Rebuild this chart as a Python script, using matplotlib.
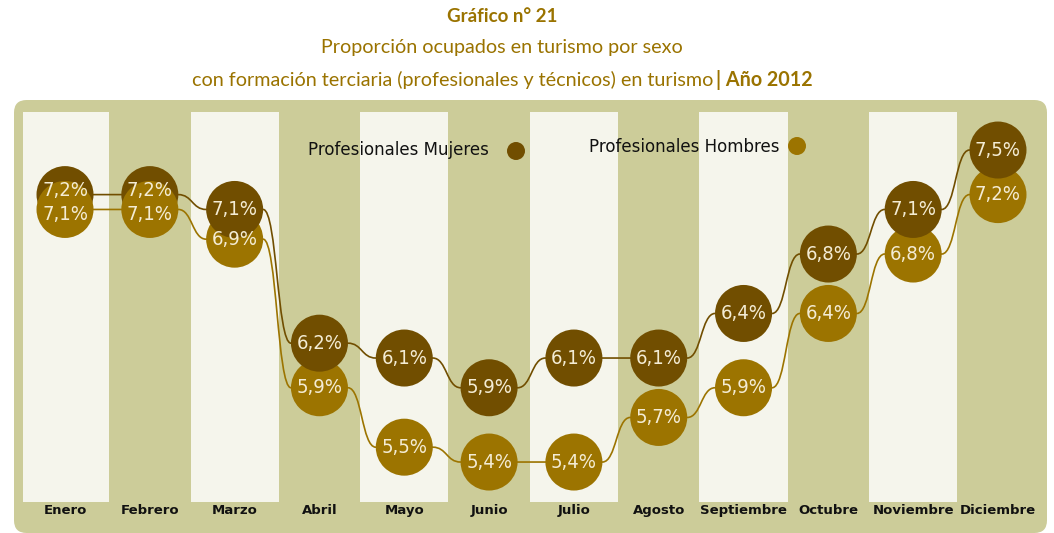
import matplotlib
matplotlib.use('Agg')
import matplotlib.pyplot as plt
from matplotlib.patches import FancyBboxPatch, PathPatch
from matplotlib.path import Path
from matplotlib.transforms import blended_transform_factory, offset_copy

meses = ['Enero', 'Febrero', 'Marzo', 'Abril', 'Mayo', 'Junio', 'Julio',
         'Agosto', 'Septiembre', 'Octubre', 'Noviembre', 'Diciembre']
mujeres = [7.2, 7.2, 7.1, 6.2, 6.1, 5.9, 6.1, 6.1, 6.4, 6.8, 7.1, 7.5]
hombres = [7.1, 7.1, 6.9, 5.9, 5.5, 5.4, 5.4, 5.7, 5.9, 6.4, 6.8, 7.2]
serie_mujeres = 'Profesionales Mujeres'
serie_hombres = 'Profesionales Hombres'
titulo1 = 'Gráfico n° 21'
titulo2 = 'Proporción ocupados en turismo por sexo'
titulo3a = 'con formación terciaria (profesionales y técnicos) en turismo'
titulo3b = '| Año 2012'

C_MUJ = '#714E00'
C_HOM = '#9C7400'
C_BG = '#CCCC99'
C_COL = '#F5F5EC'
C_TIT = '#9A7300'
C_TXT = '#F4ECD4'

W, H = 1054, 533
fig = plt.figure(figsize=(W / 100, H / 100), dpi=100)
fig.patch.set_facecolor('white')

# rounded olive background
bg = FancyBboxPatch((14 / W, 0 / H), (1047 - 14) / W, (533 - 100) / H,
                    boxstyle='round,pad=0,rounding_size=0.012',
                    transform=fig.transFigure, facecolor=C_BG, edgecolor='none',
                    mutation_aspect=W / H, zorder=-5)
fig.patches.append(bg)

left_px, right_px = 22.6, 1040.4
top_px, bot_px = 112, 502
ax = fig.add_axes([left_px / W, (H - bot_px) / H, (right_px - left_px) / W, (bot_px - top_px) / H])
ax.set_facecolor('none')
ax.axis('off')
ax.set_xlim(-0.5, 11.5)
ylo, yhi = 5.131, 7.756
ax.set_ylim(ylo, yhi)

x = list(range(len(meses)))
for i in x[::2]:
    ax.axvspan(i - 0.52, i + 0.52, color=C_COL, zorder=1, lw=0)

px_per_unit = (right_px - left_px) / 12.0
r = 28.5 / px_per_unit
py_per_unit = (bot_px - top_px) / (yhi - ylo)


def connectors(vals, color):
    for i in range(len(vals) - 1):
        x0, y0 = x[i] + r, vals[i]
        x1, y1 = x[i + 1] - r, vals[i + 1]
        xm = (x0 + x1) / 2
        verts = [(x0 - 0.05, y0), (x0, y0), (xm, y0), (xm, y1), (x1, y1), (x1 + 0.05, y1)]
        codes = [Path.MOVETO, Path.LINETO, Path.CURVE4, Path.CURVE4, Path.CURVE4, Path.LINETO]
        ax.add_patch(PathPatch(Path(verts, codes), facecolor='none', edgecolor=color,
                               lw=1.2, zorder=2))


connectors(hombres, C_HOM)
connectors(mujeres, C_MUJ)

s = (57 * 0.72) ** 2
for xi, vm, vh in zip(x, mujeres, hombres):
    hombres_top = (vm - vh) <= 0.1 + 1e-9
    ax.scatter([xi], [vm], s=s, color=C_MUJ, edgecolors='none',
               zorder=3 if hombres_top else 4)
    ax.scatter([xi], [vh], s=s, color=C_HOM, edgecolors='none',
               zorder=4 if hombres_top else 3)

num_font = dict(family=['Liberation Sans Narrow', 'DejaVu Sans'], stretch='condensed')
min_sep = 24  # px, label collision avoidance only
for xi, vm, vh in zip(x, mujeres, hombres):
    gap_px = (vm - vh) * py_per_unit
    shift = max(0.0, (min_sep - gap_px) / 2)
    tm = offset_copy(ax.transData, fig=fig, x=0, y=shift * 0.72, units='points')
    th = offset_copy(ax.transData, fig=fig, x=0, y=-shift * 0.72, units='points')
    ax.text(xi, vm, f'{vm:.1f}%'.replace('.', ','), ha='center', va='center',
            color=C_TXT, fontsize=14.5, zorder=6, transform=tm, **num_font)
    ax.text(xi, vh, f'{vh:.1f}%'.replace('.', ','), ha='center', va='center',
            color=C_TXT, fontsize=14.5, zorder=6, transform=th, **num_font)

# month labels
trans = blended_transform_factory(ax.transData, ax.transAxes)
for xi, m in zip(x, meses):
    ax.text(xi, -0.023, m, transform=trans, ha='center', va='center',
            fontsize=9.5, fontweight='bold', color='#111111', clip_on=False,
            family='DejaVu Sans')

# legend
fig.text(308 / W, 1 - 150 / H, serie_mujeres, ha='left', va='center',
         fontsize=12, color='#111111', family='DejaVu Sans')
fig.text(589 / W, 1 - 147 / H, serie_hombres, ha='left', va='center',
         fontsize=12, color='#111111', family='DejaVu Sans')
lax = fig.add_axes([0, 0, 1, 1], facecolor='none')
lax.set_xlim(0, W)
lax.set_ylim(H, 0)
lax.axis('off')
lax.scatter([516], [151], s=(18 * 0.72) ** 2, color=C_MUJ, edgecolors='none')
lax.scatter([797], [146], s=(18 * 0.72) ** 2, color=C_HOM, edgecolors='none')

# titles
tfont = 'Lato'
fig.text(502 / W, 1 - 17 / H, titulo1, ha='center', va='center', fontsize=13.5,
         fontweight='bold', color=C_TIT, family=tfont)
fig.text(502 / W, 1 - 48 / H, titulo2, ha='center', va='center', fontsize=14.2,
         color=C_TIT, family=tfont)
renderer = fig.canvas.get_renderer()
ta = fig.text(0, 1 - 80 / H, titulo3a, ha='left', va='center', fontsize=14.2,
              color=C_TIT, family=tfont)
tb = fig.text(0, 1 - 80 / H, titulo3b, ha='left', va='center', fontsize=14.2,
              fontweight='bold', color=C_TIT, family=tfont)
wa = ta.get_window_extent(renderer).width
wb = tb.get_window_extent(renderer).width
gap = 3
total = wa + gap + wb
start = 502 - total / 2
ta.set_x(start / W)
tb.set_x((start + wa + gap) / W)

fig.savefig('out.png', dpi=100, facecolor='white')
